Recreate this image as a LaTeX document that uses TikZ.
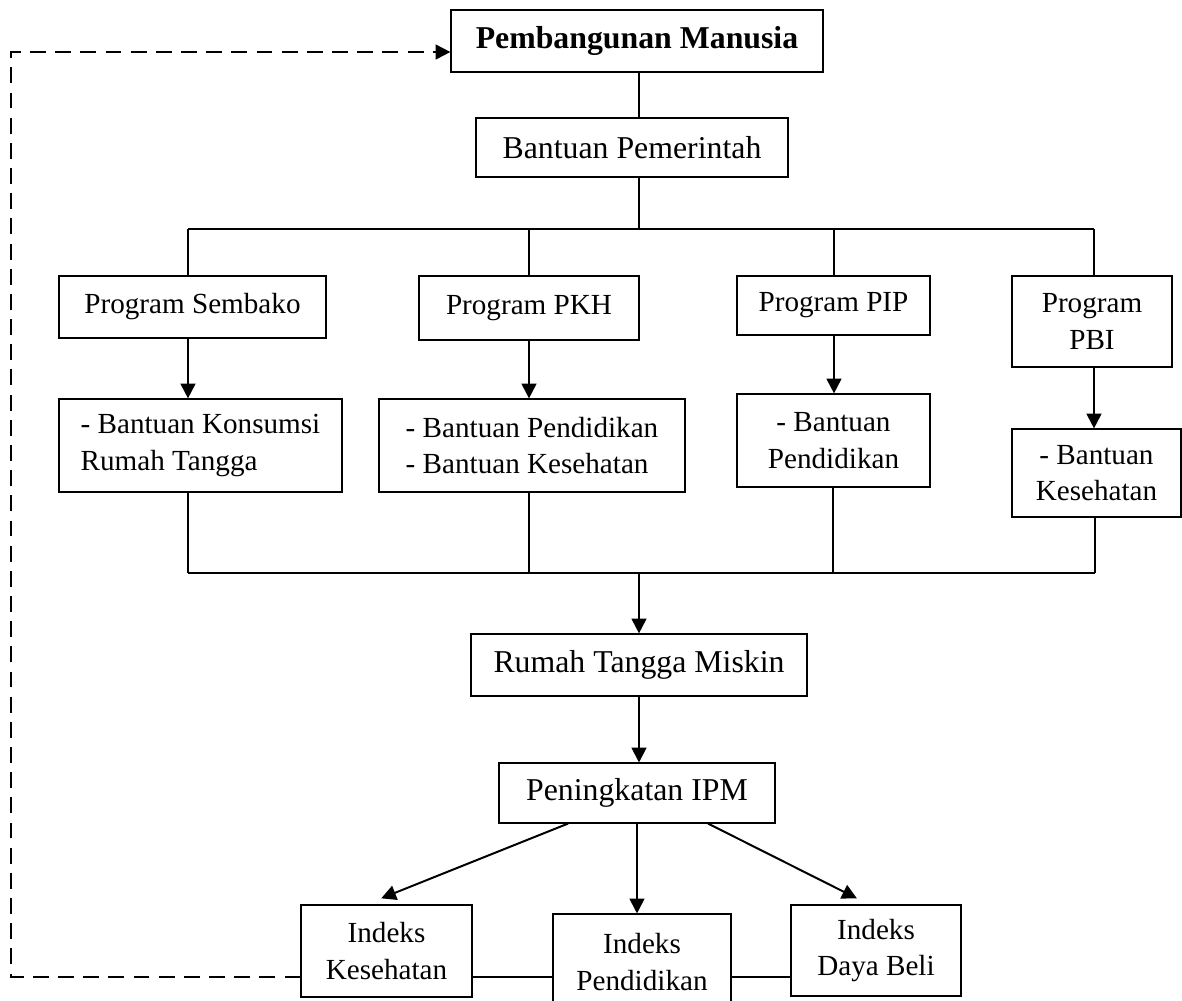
\documentclass[tikz,border=0pt]{standalone}
\usepackage{fontspec}
\setmainfont{Liberation Serif}
\usetikzlibrary{arrows.meta}

\tikzset{
  bigbox/.style={draw, line width=0.45pt, inner sep=0pt, align=center,
    font=\fontsize{12}{14}\selectfont},
  smallbox/.style={draw, line width=0.45pt, inner sep=0pt, align=center,
    font=\fontsize{11}{13.8}\selectfont},
  conn/.style={line width=0.75pt},
  arr/.style={line width=0.75pt, -{Triangle[width=5.6pt,length=5.6pt]}},
  dashline/.style={line width=0.75pt, dash pattern=on 6pt off 3.5pt,
    -{Triangle[width=5.6pt,length=5.6pt]}}
}

\begin{document}
\begin{tikzpicture}[x=0.3774pt, y=-0.3774pt]
 \useasboundingbox (0,0) rectangle (1182,1000);

 \node[bigbox, font=\fontsize{12}{14}\selectfont\bfseries, minimum width=140.4pt, minimum height=23.4pt] (pm) at (637,41) {Pembangunan Manusia};
 \node[bigbox, minimum width=117.7pt, minimum height=22.3pt] (bp) at (632,147.5) {Bantuan Pemerintah};

 % the four programmes
 \node[smallbox, minimum width=100.8pt, minimum height=23.4pt] (sembako) at (192.5,307) {Program Sembako};
 \node[smallbox, minimum width=83pt, minimum height=24.2pt] (pkh) at (529,308) {Program PKH};
 \node[smallbox, minimum width=72.8pt, minimum height=22.3pt] (pip) at (833.5,305.5) {Program PIP};
 \node[smallbox, minimum width=60.4pt, minimum height=34.3pt] (pbi) at (1092,321.5) {Program\\PBI};

 \node[smallbox, align=left, minimum width=106.8pt, minimum height=35.1pt] (konsumsi) at (200.5,445.5) {- Bantuan Konsumsi\\Rumah Tangga};
 \node[smallbox, align=left, minimum width=115.5pt, minimum height=35.1pt] (bpkh) at (532,445.5) {- Bantuan Pendidikan\\- Bantuan Kesehatan};
 \node[smallbox, minimum width=72.8pt, minimum height=35.1pt] (bpip) at (833.5,440.5) {- Bantuan\\Pendidikan};
 \node[smallbox, minimum width=63.8pt, minimum height=33.2pt] (bpbi) at (1096.5,473) {- Bantuan\\Kesehatan};

 \node[bigbox, minimum width=126.8pt, minimum height=23.4pt] (rtm) at (639,665) {Rumah Tangga Miskin};
 \node[bigbox, minimum width=104.2pt, minimum height=22.6pt] (ipm) at (637,793) {Peningkatan IPM};

 % the three indices
 \node[smallbox, minimum width=64.5pt, minimum height=34.7pt] (ikes) at (386.5,951) {Indeks\\Kesehatan};
 \node[smallbox, minimum width=67.2pt, minimum height=36.2pt] (ipend) at (642,962) {Indeks\\Pendidikan};
 \node[smallbox, minimum width=64.2pt, minimum height=34.3pt] (idb) at (876,950.5) {Indeks\\Daya Beli};

 % joints on the two bus lines
 \coordinate (j0) at (639,229);
 \coordinate (j1) at (188,229);
 \coordinate (j2) at (529,229);
 \coordinate (j3) at (834,229);
 \coordinate (j4) at (1094,229);
 \coordinate (k0) at (639,573);
 \coordinate (k1) at (188,573);
 \coordinate (k2) at (529,573);
 \coordinate (k3) at (833,573);
 \coordinate (k4) at (1095,573);
 \coordinate (loop) at (11,52);

 \draw[conn] (j0 |- pm.south) -- (j0 |- bp.north);
 \draw[line width=0.45pt] (j0 |- bp.south) -- (j0);
 \draw[conn] (j1) -- (j4); % upper bus
 \draw[conn] (j1) -- (j1 |- sembako.north);
 \draw[conn] (j2) -- (j2 |- pkh.north);
 \draw[conn] (j3) -- (j3 |- pip.north);
 \draw[conn] (j4) -- (j4 |- pbi.north);

 \draw[arr] (j1 |- sembako.south) -- (j1 |- konsumsi.north);
 \draw[arr] (j2 |- pkh.south) -- (j2 |- bpkh.north);
 \draw[arr] (j3 |- pip.south) -- (j3 |- bpip.north);
 \draw[arr] (j4 |- pbi.south) -- (j4 |- bpbi.north);

 \draw[conn] (k1 |- konsumsi.south) -- (k1);
 \draw[conn] (k2 |- bpkh.south) -- (k2);
 \draw[conn] (k3 |- bpip.south) -- (k3);
 \draw[conn] (k4 |- bpbi.south) -- (k4);
 \draw[conn] (k1) -- (k4); % lower bus

 \draw[arr] (k0) -- (k0 |- rtm.north);
 \draw[arr] (rtm.south) -- (rtm.south |- ipm.north);
 \draw[arr] ([xshift=-26pt]ipm.south) -- ([xshift=-2pt,yshift=2.3pt]ikes.north);
 \draw[arr] (ipm.south) -- (ipm.south |- ipend.north);
 \draw[arr] ([xshift=26.8pt]ipm.south) -- ([xshift=-7.2pt,yshift=2.3pt]idb.north);

 \draw[conn] ([yshift=-9.8pt]ikes.east) -- ([yshift=-9.8pt]ikes.east -| ipend.west);
 \draw[conn] ([yshift=-10pt]idb.west) -- ([yshift=-10pt]idb.west -| ipend.east);

 \draw[dashline] ([yshift=-9.8pt]ikes.west) -| (loop) -- (loop -| pm.west); % feedback loop

\end{tikzpicture}
\end{document}
